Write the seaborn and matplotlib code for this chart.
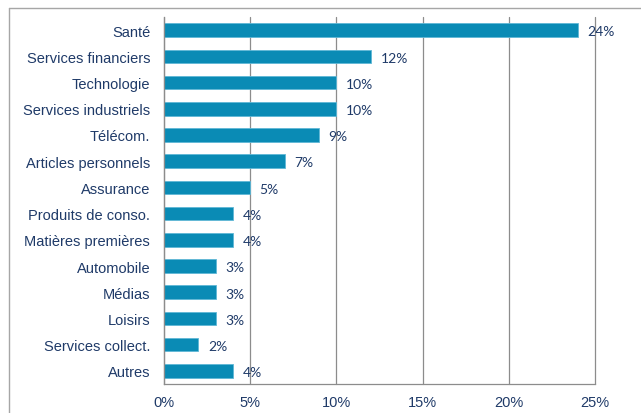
import matplotlib
matplotlib.use("Agg")
import matplotlib.pyplot as plt
import seaborn as sns
import pandas as pd
from matplotlib.lines import Line2D

# données
secteurs = ['Santé', 'Services financiers', 'Technologie', 'Services industriels',
            'Télécom.', 'Articles personnels', 'Assurance', 'Produits de conso.',
            'Matières premières', 'Automobile', 'Médias', 'Loisirs',
            'Services collect.', 'Autres']
poids = [24, 12, 10, 10, 9, 7, 5, 4, 4, 3, 3, 3, 2, 4]
ticks_x = [0, 5, 10, 15, 20, 25]

df = pd.DataFrame({'secteur': secteurs, 'poids': poids})

sns.set_style('white')
plt.rcParams['font.family'] = ['Liberation Sans', 'DejaVu Sans']

texte = '#1F3A68'
gris = '#8C8C8C'

fig = plt.figure(figsize=(6.41, 4.14), dpi=100)
ax = fig.add_axes([164/641, 1 - 385/414, (595-164)/641, (385-18)/414])

sns.barplot(data=df, x='poids', y='secteur', color='#0A8BB5', width=0.52,
            edgecolor='#5FB8D6', linewidth=0.6, saturation=1, ax=ax)

ax.set_xlim(0, 25)
ax.set_ylim(len(secteurs) - 0.5, -0.5)
ax.set_xticks(ticks_x)
ax.set_xticklabels([f'{t}%' for t in ticks_x], color=texte, fontsize=10.5)
ax.set_yticks(range(len(secteurs)))
ax.set_yticklabels(secteurs, color=texte, fontsize=10.5)
ax.set_xlabel('')
ax.set_ylabel('')

# grille verticale
ax.xaxis.grid(True, color=gris, linewidth=0.9)
for gl in ax.get_xgridlines():
    gl.set_clip_on(False)
ax.set_axisbelow(True)

# petites graduations entre les catégories
ax.tick_params(axis='y', length=0, pad=10)
ax.set_yticks([i - 0.5 for i in range(len(secteurs) + 1)], minor=True)
ax.tick_params(axis='y', which='minor', length=4, color=gris, width=0.9)
ax.tick_params(axis='x', length=4, color=gris, width=0.9, pad=4)

for s in ['top', 'right']:
    ax.spines[s].set_visible(False)
for s in ['left', 'bottom']:
    ax.spines[s].set_color(gris)
    ax.spines[s].set_linewidth(0.9)

# étiquettes des valeurs
for i, v in enumerate(poids):
    ax.text(v + 0.55, i + 0.05, f'{v}%', va='center', ha='left', fontsize=10,
            color=texte, family=['Lato', 'DejaVu Sans'])

# cadre du graphique
fig.add_artist(Line2D([9/641, 9/641], [0, 1 - 9/414], color='#A6A6A6', linewidth=1))
fig.add_artist(Line2D([9/641, 1], [1 - 9/414, 1 - 9/414], color='#A6A6A6', linewidth=1))

fig.savefig('out.png', dpi=100)
